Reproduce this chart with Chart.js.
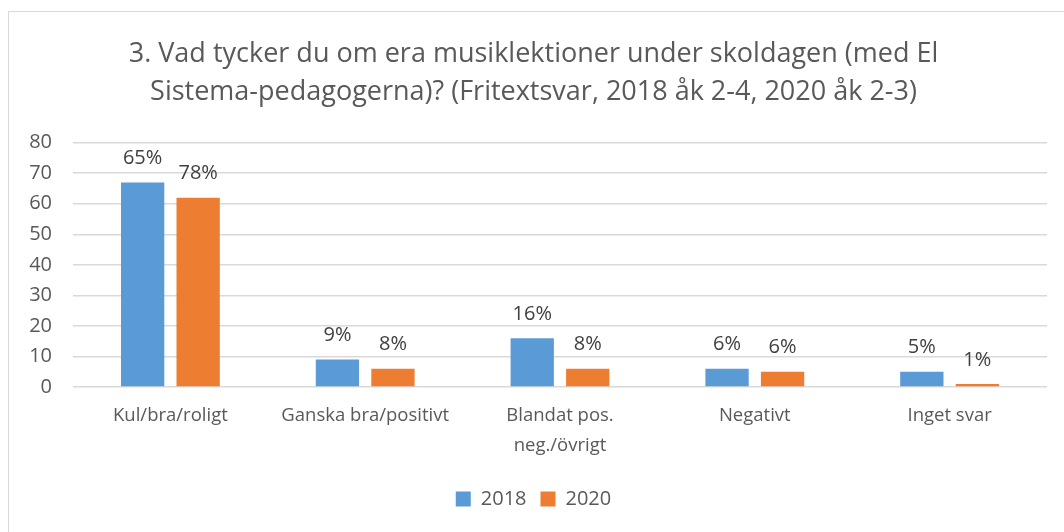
<!DOCTYPE html>
<html>
<head>
<meta charset="utf-8">
<script src="https://cdn.jsdelivr.net/npm/chart.js@4"></script>
<style>
  body { margin: 0; background: #fff; overflow: hidden; }
  #frame { position: absolute; left: 8px; top: 11px; width: 1100px; height: 600px; border: 1px solid #d9d9d9; }
  #wrap { position: absolute; left: 0; top: 0; width: 1064px; height: 532px; }
</style>
</head>
<body>
<div id="frame"></div>
<div id="wrap"><canvas id="chart" width="1064" height="532"></canvas></div>
<script>
const categories = ['Kul/bra/roligt', 'Ganska bra/positivt', ['Blandat pos.', 'neg./övrigt'], 'Negativt', 'Inget svar'];
const values2018 = [67, 9, 16, 6, 5];
const values2020 = [62, 6, 6, 5, 1];
const labels2018 = ['65%', '9%', '16%', '6%', '5%'];
const labels2020 = ['78%', '8%', '8%', '6%', '1%'];
const yTicks = [0, 10, 20, 30, 40, 50, 60, 70, 80];

const fontFamily = '"Open Sans", Lato, sans-serif';
const textColour = '#595959';

// draws the percent text above each bar
const barLabels = {
    id: 'barLabels',
    afterDatasetsDraw(chart) {
        const ctx = chart.ctx;
        ctx.save();
        ctx.font = `20px ${fontFamily}`;
        ctx.fillStyle = '#404040';
        ctx.textAlign = 'center';
        ctx.textBaseline = 'middle';
        chart.data.datasets.forEach((ds, i) => {
            chart.getDatasetMeta(i).data.forEach((bar, j) => {
                ctx.fillText(ds.pctLabels[j], bar.x, bar.y - 24);
            });
        });
        ctx.restore();
    },
};

const ctx = document.querySelector('#chart').getContext('2d');
new Chart(ctx, {
    type: 'bar',
    data: {
        labels: categories,
        datasets: [{
            label: '2018',
            data: values2018,
            pctLabels: labels2018,
            backgroundColor: '#5b9bd5',
        }, {
            label: '2020',
            data: values2020,
            pctLabels: labels2020,
            backgroundColor: '#ed7d31',
        }],
    },
    options: {
        responsive: false,
        animation: false,
        categoryPercentage: 0.57,
        barPercentage: 0.78,
        layout: {
            padding: { left: 20, right: 17, top: 0, bottom: 13 },
        },
        plugins: {
            title: {
                display: true,
                text: ['3. Vad tycker du om era musiklektioner under skoldagen (med El', 'Sistema-pedagogerna)? (Fritextsvar, 2018 åk 2-4, 2020 åk 2-3)'],
                color: textColour,
                font: { family: fontFamily, size: 27, weight: 'normal', lineHeight: 1.42 },
                padding: { top: 35, bottom: 31 },
            },
            legend: {
                position: 'bottom',
                labels: {
                    color: textColour,
                    font: { family: fontFamily, size: 20 },
                    boxWidth: 15,
                    boxHeight: 15,
                    padding: 14,
                },
            },
            tooltip: { enabled: false },
        },
        scales: {
            x: {
                grid: { display: false, drawTicks: false },
                border: { display: false },
                afterFit(axis) {
                    axis.height = 88;
                },
                ticks: {
                    color: textColour,
                    font: { family: fontFamily, size: 18.5, lineHeight: 1.62 },
                    maxRotation: 0,
                    padding: 14,
                },
            },
            y: {
                min: 0,
                max: 80,
                afterBuildTicks(axis) {
                    axis.ticks = yTicks.map((v) => ({ value: v }));
                },
                afterFit(axis) {
                    axis.width = 53;
                },
                grid: { color: '#d9d9d9', lineWidth: 1.5, drawTicks: false },
                border: { display: false },
                ticks: {
                    color: textColour,
                    font: { family: fontFamily, size: 20 },
                    padding: 21,
                },
            },
        },
    },
    plugins: [barLabels],
});
</script>
</body>
</html>
